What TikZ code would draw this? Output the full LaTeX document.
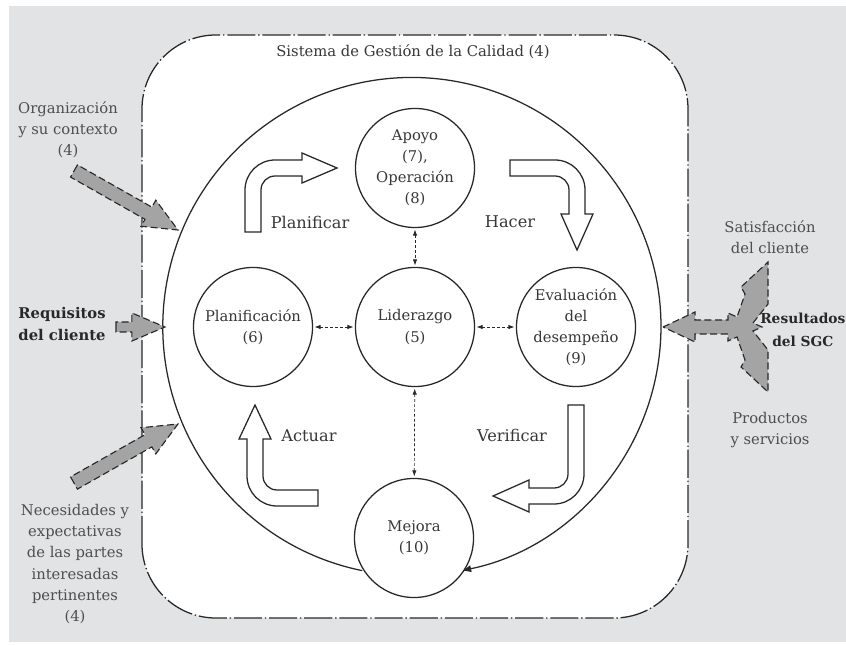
\documentclass[tikz,border=0pt]{standalone}
\usepackage{fontspec}
\setmainfont{DejaVu Serif}
\usetikzlibrary{arrows.meta,calc}

\definecolor{fondo}{RGB}{226,227,229}
\definecolor{relleno}{RGB}{164,164,164}
\definecolor{trazo}{RGB}{40,40,40}
\definecolor{letra}{RGB}{55,55,55}
\definecolor{letrafuera}{RGB}{78,78,78}

\newcommand{\flechagris}[5]{%
    \coordinate (cabeza) at ($(#2)!#5!(#1)$);
    \filldraw[gris] (#1) -- ($(#1)!#3!90:(#2)$) -- ($(cabeza)!#3!-90:(#1)$)
        -- ($(cabeza)!#4!-90:(#1)$) -- (#2) -- ($(cabeza)!#4!90:(#1)$)
        -- ($(cabeza)!#3!90:(#1)$) -- ($(#1)!#3!-90:(#2)$) -- cycle;}

\begin{document}
\begin{tikzpicture}[x=0.025cm, y=0.025cm,
        caja/.style={draw=trazo, fill=white, line width=0.9pt, rounded corners=1.85cm,
            dash pattern=on 20pt off 2pt on 1pt off 2pt},
        etapa/.style={circle, draw=trazo, fill=white, line width=0.9pt, minimum size=2.975cm,
            inner sep=0pt, align=center, text=letra, font=\fontsize{10.5}{15}\selectfont},
        enlace/.style={{Latex[length=1.5mm,width=1.1mm]}-{Latex[length=1.5mm,width=1.1mm]},
            draw=trazo, line width=0.5pt, dash pattern=on 2pt off 1.5pt,
            shorten <=1pt, shorten >=1pt},
        ciclo/.style={draw=trazo, line width=0.9pt, -{Latex[length=2.4mm,width=1.8mm]}},
        hueca/.style={draw=trazo, fill=white, line width=0.9pt},
        gris/.style={draw=trazo, fill=relleno, line width=0.8pt, dash pattern=on 5pt off 2.5pt},
        fase/.style={text=letra, font=\fontsize{11.5}{14}\selectfont},
        texto/.style={align=center, text=letrafuera, font=\fontsize{10.5}{15}\selectfont},
        fuerte/.style={align=center, text=trazo, font=\fontsize{10.5}{16}\selectfont\bfseries}]

    \useasboundingbox (0,0) rectangle (846,644);
    \fill[fondo] (9,2) rectangle (846,638);

    \draw[caja] (142,26) rectangle (688,609);
    \node[text=letra, font=\fontsize{10.5}{13}\selectfont] (titulo) at (413,592) {Sistema de Gestión de la Calidad (4)};

    \node[circle, minimum size=12.45cm, inner sep=0pt, outer sep=0pt] (sgc) at (414,317) {};
    \draw[ciclo] (sgc.258.5) arc[start angle=258.5, end angle=-78.5, radius=6.225cm];

    \node[etapa] (apoyo) at (415,476) {Apoyo\\(7),\\Operación\\(8)};
    \node[etapa] (liderazgo) at (415,317) {Liderazgo\\(5)};
    \node[etapa] (planificacion) at (253,317) {Planificación\\(6)};
    \node[etapa] (evaluacion) at (576,317) {Evaluación\\del\\desempeño\\(9)};
    \node[etapa] (mejora) at (414,106) {Mejora\\(10)};

    \draw[enlace] (apoyo) -- (liderazgo);
    \draw[enlace] (planificacion) -- (liderazgo);
    \draw[enlace] (liderazgo) -- (evaluacion);
    \draw[enlace] (liderazgo) -- (mejora);

    \draw[hueca] (245,412) -- (245,454) arc[start angle=180, end angle=90, radius=0.75cm]
        -- (302,484) -- (302,491) -- (337,476) -- (302,461) -- (302,468) -- (275,468)
        arc[start angle=90, end angle=180, radius=0.35cm] -- (261,412) -- cycle;
    \draw[hueca] (510,484) -- (555,484) arc[start angle=90, end angle=0, radius=0.75cm]
        -- (585,430) -- (593,430) -- (577,394) -- (561,430) -- (569,430) -- (569,454)
        arc[start angle=0, end angle=90, radius=0.35cm] -- (510,468) -- cycle;
    \draw[hueca] (568,239) -- (584,239) -- (584,170) arc[start angle=0, end angle=-90, radius=0.75cm]
        -- (529,140) -- (529,132) -- (493,148) -- (529,164) -- (529,156) -- (554,156)
        arc[start angle=-90, end angle=0, radius=0.35cm] -- cycle;
    \draw[hueca] (318,154) -- (277,154) arc[start angle=270, end angle=180, radius=0.35cm]
        -- (263,205) -- (271,205) -- (255,239) -- (239,205) -- (247,205) -- (247,168)
        arc[start angle=180, end angle=270, radius=0.75cm] -- (318,138) -- cycle;

    \node[fase] (planificar) at (310,422) {Planificar};
    \node[fase] (hacer) at (510,422) {Hacer};
    \node[fase] (verificar) at (512,209) {Verificar};
    \node[fase] (actuar) at (309,208) {Actuar};

    \coordinate (org cola) at (74,473);
    \coordinate (org punta) at (178,414);
    \coordinate (req cola) at (116,317);
    \coordinate (nec cola) at (74,161);
    \coordinate (nec punta) at (178,220);

    \flechagris{org cola}{org punta}{0.175cm}{0.375cm}{0.85cm}
    \flechagris{req cola}{sgc.west}{0.125cm}{0.35cm}{0.825cm}
    \flechagris{nec cola}{nec punta}{0.175cm}{0.375cm}{0.85cm}

    \filldraw[gris] (sgc.east) -- (695,332) -- (695,324) -- (728,324) -- (728,331) -- (737,327)
        -- (745,350) -- (741,357) -- (768,382) -- (768,340) -- (753,321) -- (762,317)
        -- (753,313) -- (768,294) -- (768,252) -- (741,277) -- (745,284) -- (737,307)
        -- (728,303) -- (728,310) -- (695,310) -- (695,302) -- cycle;

    \node[texto] (organizacion) at (68,514) {Organización\\y su contexto\\(4)};
    \node[fuerte] (requisitos) at (62,320) {Requisitos\\del cliente};
    \node[texto] (necesidades) at (75,80) {Necesidades y\\expectativas\\de las partes\\interesadas\\pertinentes\\(4)};
    \node[texto] (satisfaccion) at (770,407) {Satisfacción\\del cliente};
    \node[fuerte, anchor=west, inner sep=0pt, font=\fontsize{9.8}{16}\selectfont\bfseries] (resultados) at (760,314) {Resultados\\del SGC};
    \node[texto] (productos) at (770,214) {Productos\\y servicios};
\end{tikzpicture}
\end{document}
